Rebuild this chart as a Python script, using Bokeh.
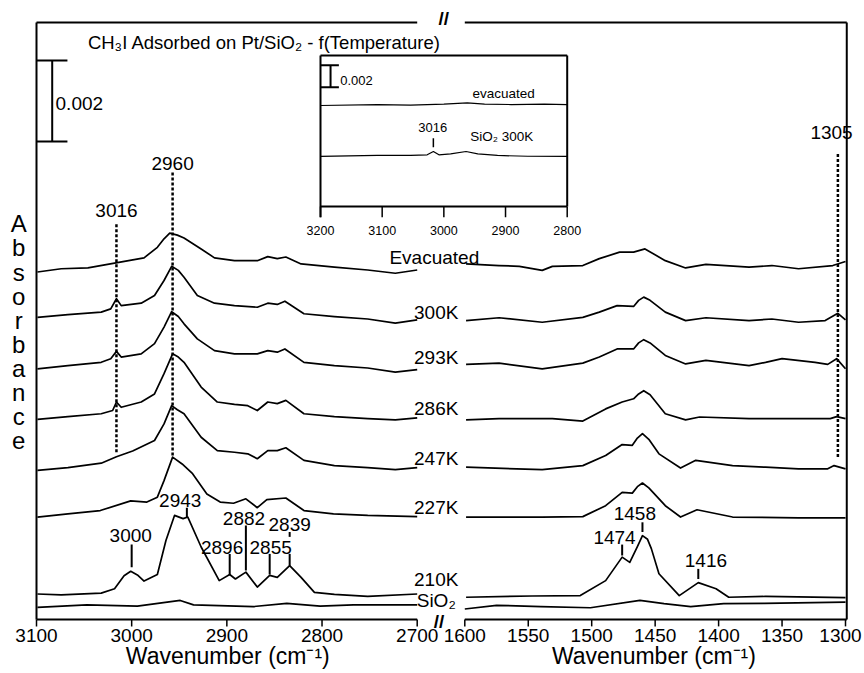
from bokeh.plotting import figure
from bokeh.models import Range1d
from bokeh.embed import file_html
from bokeh.resources import INLINE
from bokeh.core.properties import value

# ---------------- data (wavenumber in cm-1, absorbance in units of 0.001) ----------------
spec_names = ["Evacuated", "300K", "293K", "286K", "247K", "227K", "210K", "SiO₂"]

evac_l_wn = [3099, 3074, 3046, 3018, 2987, 2973, 2966, 2960, 2952, 2945, 2927, 2913, 2892, 2868, 2857, 2847, 2838, 2822, 2787, 2752, 2723, 2700]
evac_l_a = [8.58, 8.66, 8.68, 8.80, 8.93, 9.19, 9.40, 9.54, 9.49, 9.42, 9.15, 8.93, 8.86, 8.86, 8.96, 8.91, 8.95, 8.78, 8.70, 8.63, 8.55, 8.63]
evac_r_wn = [1599, 1573, 1557, 1539, 1531, 1507, 1494, 1478, 1467, 1458, 1442, 1426, 1410, 1376, 1358, 1337, 1310, 1300]
evac_r_a = [8.78, 8.74, 8.72, 8.62, 8.72, 8.74, 8.91, 9.07, 9.07, 9.15, 8.86, 8.68, 8.77, 8.70, 8.74, 8.66, 8.74, 8.84]

k300_l_wn = [3099, 3067, 3032, 3022, 3016, 3011, 2990, 2976, 2966, 2958, 2951, 2945, 2931, 2913, 2892, 2868, 2857, 2847, 2839, 2819, 2787, 2752, 2723, 2700]
k300_l_a = [7.46, 7.53, 7.59, 7.67, 7.92, 7.75, 7.81, 8.00, 8.37, 8.72, 8.62, 8.45, 8.00, 7.81, 7.75, 7.71, 7.81, 7.78, 7.86, 7.55, 7.48, 7.42, 7.32, 7.40]
k300_r_wn = [1599, 1573, 1539, 1507, 1494, 1480, 1467, 1463, 1459, 1454, 1442, 1426, 1410, 1376, 1358, 1337, 1316, 1306, 1300]
k300_r_a = [7.38, 7.45, 7.34, 7.46, 7.59, 7.75, 7.73, 7.88, 7.96, 7.88, 7.59, 7.38, 7.45, 7.38, 7.42, 7.34, 7.38, 7.56, 7.40]

k293_l_wn = [3099, 3067, 3032, 3022, 3016, 3011, 2990, 2976, 2966, 2958, 2951, 2945, 2931, 2913, 2892, 2868, 2857, 2847, 2839, 2819, 2787, 2752, 2723, 2700]
k293_l_a = [6.19, 6.27, 6.35, 6.44, 6.62, 6.48, 6.56, 6.81, 7.22, 7.60, 7.48, 7.30, 6.93, 6.64, 6.56, 6.56, 6.64, 6.60, 6.68, 6.35, 6.27, 6.21, 6.11, 6.17]
k293_r_wn = [1599, 1573, 1539, 1507, 1494, 1480, 1467, 1463, 1459, 1454, 1442, 1426, 1410, 1376, 1363, 1350, 1324, 1314, 1307, 1300]
k293_r_a = [6.30, 6.33, 6.19, 6.33, 6.48, 6.68, 6.68, 6.83, 6.91, 6.83, 6.52, 6.31, 6.40, 6.27, 6.35, 6.44, 6.35, 6.30, 6.44, 6.19]

k286_l_wn = [3099, 3067, 3032, 3020, 3016, 3011, 2990, 2976, 2966, 2957, 2951, 2945, 2927, 2910, 2892, 2878, 2868, 2857, 2847, 2838, 2819, 2787, 2752, 2723, 2700]
k286_l_a = [4.94, 5.01, 5.08, 5.16, 5.37, 5.24, 5.37, 5.57, 6.07, 6.56, 6.48, 6.35, 5.74, 5.37, 5.31, 5.28, 5.16, 5.37, 5.33, 5.41, 5.08, 5.01, 4.96, 4.93, 4.98]
k286_r_wn = [1599, 1573, 1531, 1507, 1489, 1476, 1467, 1463, 1459, 1454, 1442, 1426, 1415, 1376, 1337, 1312, 1307, 1300]
k286_r_a = [4.93, 4.96, 4.96, 4.90, 5.20, 5.37, 5.45, 5.57, 5.65, 5.55, 5.08, 4.93, 5.00, 4.96, 4.96, 4.96, 5.01, 4.96]

k247_l_wn = [3099, 3067, 3032, 3016, 2999, 2976, 2966, 2958, 2952, 2945, 2927, 2910, 2892, 2878, 2868, 2857, 2847, 2838, 2819, 2787, 2752, 2723, 2700]
k247_l_a = [3.68, 3.75, 3.86, 4.02, 4.16, 4.42, 4.83, 5.28, 5.18, 5.08, 4.50, 4.17, 4.13, 4.09, 3.97, 4.17, 4.17, 4.24, 3.93, 3.80, 3.75, 3.70, 3.75]
k247_r_wn = [1599, 1539, 1507, 1489, 1476, 1468, 1464, 1460, 1455, 1447, 1430, 1418, 1389, 1363, 1337, 1314, 1309, 1300]
k247_r_a = [3.76, 3.70, 3.80, 4.05, 4.32, 4.30, 4.48, 4.59, 4.45, 4.09, 3.74, 3.93, 3.80, 3.76, 3.72, 3.72, 3.80, 3.72]

k227_l_wn = [3099, 3067, 3033, 3001, 2984, 2973, 2966, 2957, 2947, 2936, 2921, 2907, 2893, 2880, 2868, 2858, 2838, 2819, 2788, 2752, 2700]
k227_l_a = [2.53, 2.61, 2.69, 2.93, 2.90, 3.02, 3.43, 4.01, 3.84, 3.60, 3.10, 2.90, 2.87, 2.98, 2.76, 2.96, 3.00, 2.69, 2.61, 2.57, 2.54]
k227_r_wn = [1599, 1539, 1507, 1489, 1476, 1468, 1464, 1460, 1455, 1442, 1430, 1417, 1389, 1337, 1300]
k227_r_a = [2.53, 2.53, 2.54, 2.81, 3.14, 3.12, 3.28, 3.37, 3.25, 2.81, 2.53, 2.71, 2.53, 2.51, 2.51]

k210_l_wn = [3099, 3074, 3032, 3018, 3008, 3001, 2994, 2987, 2973, 2964, 2955, 2946, 2941, 2927, 2908, 2897, 2891, 2880, 2868, 2855, 2847, 2834, 2822, 2808, 2787, 2752, 2700]
k210_l_a = [0.63, 0.61, 0.65, 0.76, 1.08, 1.19, 1.10, 0.95, 1.11, 1.95, 2.57, 2.49, 2.53, 1.79, 0.96, 1.11, 1.00, 1.17, 0.80, 1.09, 1.04, 1.33, 1.04, 0.67, 0.62, 0.57, 0.63]
k210_r_wn = [1599, 1547, 1509, 1489, 1476, 1470, 1464, 1460, 1456, 1453, 1447, 1431, 1416, 1402, 1392, 1363, 1300]
k210_r_a = [0.55, 0.58, 0.59, 0.96, 1.54, 1.41, 1.80, 2.07, 1.98, 1.75, 1.13, 0.59, 0.91, 0.76, 0.55, 0.57, 0.54]

sio2_l_wn = [3099, 3047, 2994, 2949, 2935, 2872, 2837, 2802, 2767, 2700]
sio2_l_a = [0.30, 0.36, 0.33, 0.47, 0.36, 0.32, 0.40, 0.33, 0.36, 0.36]
sio2_r_wn = [1600, 1575, 1540, 1501, 1462, 1443, 1422, 1396, 1364, 1300]
sio2_r_a = [0.26, 0.35, 0.32, 0.29, 0.47, 0.39, 0.32, 0.39, 0.40, 0.43]

left_series = [(evac_l_wn, evac_l_a), (k300_l_wn, k300_l_a), (k293_l_wn, k293_l_a), (k286_l_wn, k286_l_a),
               (k247_l_wn, k247_l_a), (k227_l_wn, k227_l_a), (k210_l_wn, k210_l_a), (sio2_l_wn, sio2_l_a)]
right_series = [(evac_r_wn, evac_r_a), (k300_r_wn, k300_r_a), (k293_r_wn, k293_r_a), (k286_r_wn, k286_r_a),
                (k247_r_wn, k247_r_a), (k227_r_wn, k227_r_a), (k210_r_wn, k210_r_a), (sio2_r_wn, sio2_r_a)]
label_x = [2682, 2680, 2680, 2680, 2680, 2680, 2680, 2680]
label_y = [8.95, 7.59, 6.48, 5.20, 3.97, 2.77, 1.00, 0.47]

# inset spectra
inset_evac_wn = [3200, 3108, 3054, 3000, 2962, 2934, 2891, 2837, 2800]
inset_evac_a = [9.18, 9.27, 9.21, 9.30, 9.42, 9.30, 9.27, 9.30, 9.27]
inset_sio2_wn = [3200, 3108, 3054, 3027, 3017, 3008, 2989, 2964, 2945, 2913, 2864, 2800]
inset_sio2_a = [4.55, 4.64, 4.64, 4.70, 5.00, 4.70, 4.79, 5.00, 4.79, 4.64, 4.57, 4.55]

# ticks
left_ticks = [3100, 3000, 2900, 2800, 2700]
right_ticks = [1600, 1550, 1500, 1450, 1400, 1350, 1300]
inset_ticks = [3200, 3100, 3000, 2900, 2800]

# dotted peak markers
dash_l_x = [3016, 2957]
dash_l_top = [9.81, 11.04]
dash_l_bot = [4.13, 4.05]
dash_l_text = ["3016", "2960"]
dash_l_ty = [10.10, 11.26]
dash_r_x = [1306]
dash_r_top = [11.54]
dash_r_bot = [4.01]
dash_r_text = ["1305"]
dash_r_tx = [1311]
dash_r_ty = [12.03]

# 210K peak annotations
ann_l_text = ["3000", "2943", "2896", "2882", "2855", "2839"]
ann_l_lx = [3001, 2949, 2905, 2882, 2854, 2834]
ann_l_ly = [2.07, 2.94, 1.77, 2.49, 1.77, 2.35]
ann_l_tx = [3000, 2942, 2897, 2880, 2855, 2834, 2834]
ann_l_t0 = [1.29, 2.53, 1.09, 1.21, 1.11, 1.33, 2.04]
ann_l_t1 = [1.85, 2.76, 1.62, 2.32, 1.62, 1.62, 2.16]
ann_r_text = ["1474", "1458", "1416"]
ann_r_lx = [1482, 1466, 1410]
ann_r_ly = [2.03, 2.62, 1.46]
ann_r_tx = [1476, 1460, 1416]
ann_r_t0 = [1.58, 2.16, 1.00]
ann_r_t1 = [1.85, 2.40, 1.25]

# ---------------- layout constants ----------------
FONT = value("Liberation Sans")
W, H = 864, 671
L_LIM = (3100, 2700)
R_LIM = (1600, 1299)
TOP = 14.74
I_LIM = (3200, 2800)
I_TOP = 13.73
SCALE = 2.0  # 0.002 absorbance


def rng(px_anchor, val_anchor, px_per_unit, size, reverse=True):
    s = -1 if reverse else 1
    start = val_anchor - s * px_anchor / px_per_unit
    end = val_anchor + s * (size - px_anchor) / px_per_unit
    return Range1d(start, end)


xL = rng(36.0, 3100, 0.95175, W)
xR = rng(464.3, 1600, 1.269, W)
xI = rng(320.0, 3200, 0.61675, W)
yM = Range1d(-(H - 619.0) / 40.5, 619.0 / 40.5)
yI = Range1d(-(H - 206.0) / 11.0, 206.0 / 11.0)

p = figure(width=W, height=H, x_range=xL, y_range=yM,
           x_axis_type=None, y_axis_type=None, toolbar_location=None, output_backend="svg",
           min_border=0, outline_line_color=None)
p.extra_x_ranges = {"right": xR, "inset": xI}
p.extra_y_ranges = {"inset": yI}
p.background_fill_color = "white"
p.border_fill_color = "white"


def txt(x, y, s, size, align="center", baseline="middle", xr="default", yr="default", style="normal", xoff=0):
    p.text(x=x, y=y, text=s, x_range_name=xr, y_range_name=yr, text_font=FONT,
           text_font_size=value(size), text_align=align, text_baseline=baseline,
           text_color="black", text_font_style=style, x_offset=xoff)


# frame
p.segment(x0=[L_LIM[0], L_LIM[0], L_LIM[0]], y0=[0, TOP, 0], x1=[L_LIM[0], L_LIM[1], L_LIM[1]], y1=[TOP, TOP, 0],
          line_color="black", line_width=2)
p.segment(x0=[R_LIM[0], R_LIM[0], R_LIM[1]], y0=[TOP, 0, 0], x1=[R_LIM[1], R_LIM[1], R_LIM[1]], y1=[TOP, 0, TOP],
          line_color="black", line_width=2, x_range_name="right")
# bottom ticks
p.segment(x0=left_ticks, y0=[0] * 5, x1=left_ticks, y1=[-0.17] * 5, line_color="black", line_width=1.5)
p.segment(x0=right_ticks, y0=[0] * 7, x1=right_ticks, y1=[-0.17] * 7, line_color="black", line_width=1.5,
          x_range_name="right")
txt(left_ticks, [-0.40] * 5, [str(t) for t in left_ticks], "19px")
txt(right_ticks, [-0.40] * 7, [str(t) for t in right_ticks], "19px", xr="right",
    xoff=[0, 0, 0, 0, 0, 0, -5])
txt([2899], [-0.89], ["Wavenumber (cm⁻¹)"], "23px")
txt([1451], [-0.89], ["Wavenumber (cm⁻¹)"], "23px", xr="right")
# axis breaks
txt([2672, 2677], [14.84, -0.05], ["//", "//"], "19px", style="bold")

# vertical axis title, stacked letters
letters = list("Absorbance")
txt([3118.6] * len(letters), [9.77 - i * 0.595 for i in range(len(letters))], letters, "24px")

# title
txt([3046], [14.25], ["CH₃I Adsorbed on Pt/SiO₂ - f(Temperature)"], "18.5px", align="left")

# scale bar
p.segment(x0=[3083.5, 3100, 3100], y0=[11.80, 11.80, 11.80 + SCALE], x1=[3083.5, 3067.5, 3067.5],
          y1=[11.80 + SCALE, 11.80, 11.80 + SCALE], line_color="black", line_width=2)
txt([3080], [12.75], ["0.002"], "19px", align="left")

# dotted markers
p.segment(x0=dash_l_x, y0=dash_l_bot, x1=dash_l_x, y1=dash_l_top, line_color="black", line_width=2.5,
          line_dash="3 2")
p.segment(x0=dash_r_x, y0=dash_r_bot, x1=dash_r_x, y1=dash_r_top, line_color="black", line_width=2.5,
          line_dash="3 2", x_range_name="right")
txt(dash_l_x, dash_l_ty, dash_l_text, "19px")
txt(dash_r_tx, dash_r_ty, dash_r_text, "19px", xr="right")

# spectra
for wn, a in left_series:
    p.line(wn, a, line_color="black", line_width=1.7, line_join="round")
for wn, a in right_series:
    p.line(wn, a, line_color="black", line_width=1.7, line_join="round", x_range_name="right")
txt(label_x, label_y, spec_names, "19px")

# 210K annotations
p.segment(x0=ann_l_tx, y0=ann_l_t0, x1=ann_l_tx, y1=ann_l_t1, line_color="black", line_width=2)
txt(ann_l_lx, ann_l_ly, ann_l_text, "19px")
p.segment(x0=ann_r_tx, y0=ann_r_t0, x1=ann_r_tx, y1=ann_r_t1, line_color="black", line_width=2,
          x_range_name="right")
txt(ann_r_lx, ann_r_ly, ann_r_text, "19px", xr="right")

# ---------------- inset ----------------
IX = dict(x_range_name="inset", y_range_name="inset")
p.segment(x0=[I_LIM[0], I_LIM[0], I_LIM[1], I_LIM[0]], y0=[-0.97, I_TOP, 0, 0],
          x1=[I_LIM[0], I_LIM[1], I_LIM[1], I_LIM[1]], y1=[I_TOP, I_TOP, I_TOP, 0],
          line_color="black", line_width=2, **IX)
p.segment(x0=inset_ticks, y0=[0] * 5, x1=inset_ticks, y1=[-0.97] * 5, line_color="black", line_width=1.5, **IX)
txt(inset_ticks, [-2.18] * 5, [str(t) for t in inset_ticks], "12.5px", xr="inset", yr="inset")
p.line(inset_evac_wn, inset_evac_a, line_color="black", line_width=1.2, **IX)
p.line(inset_sio2_wn, inset_sio2_a, line_color="black", line_width=1.2, **IX)
p.segment(x0=[3183.7, 3200, 3200], y0=[10.85, 10.85, 10.85 + SCALE], x1=[3183.7, 3170.2, 3170.2],
          y1=[10.85 + SCALE, 10.85, 10.85 + SCALE], line_color="black", line_width=2, **IX)
txt([3168], [11.45], ["0.002"], "13px", align="left", xr="inset", yr="inset")
txt([2903], [10.30], ["evacuated"], "13.5px", xr="inset", yr="inset")
txt([2906], [6.39], ["SiO₂ 300K"], "13.5px", xr="inset", yr="inset")
txt([3018], [7.21], ["3016"], "13px", xr="inset", yr="inset")
p.segment(x0=[3017], y0=[5.39], x1=[3017], y1=[6.21], line_color="black", line_width=1.5, **IX)

open("out.html", "w").write(file_html(p, INLINE))
